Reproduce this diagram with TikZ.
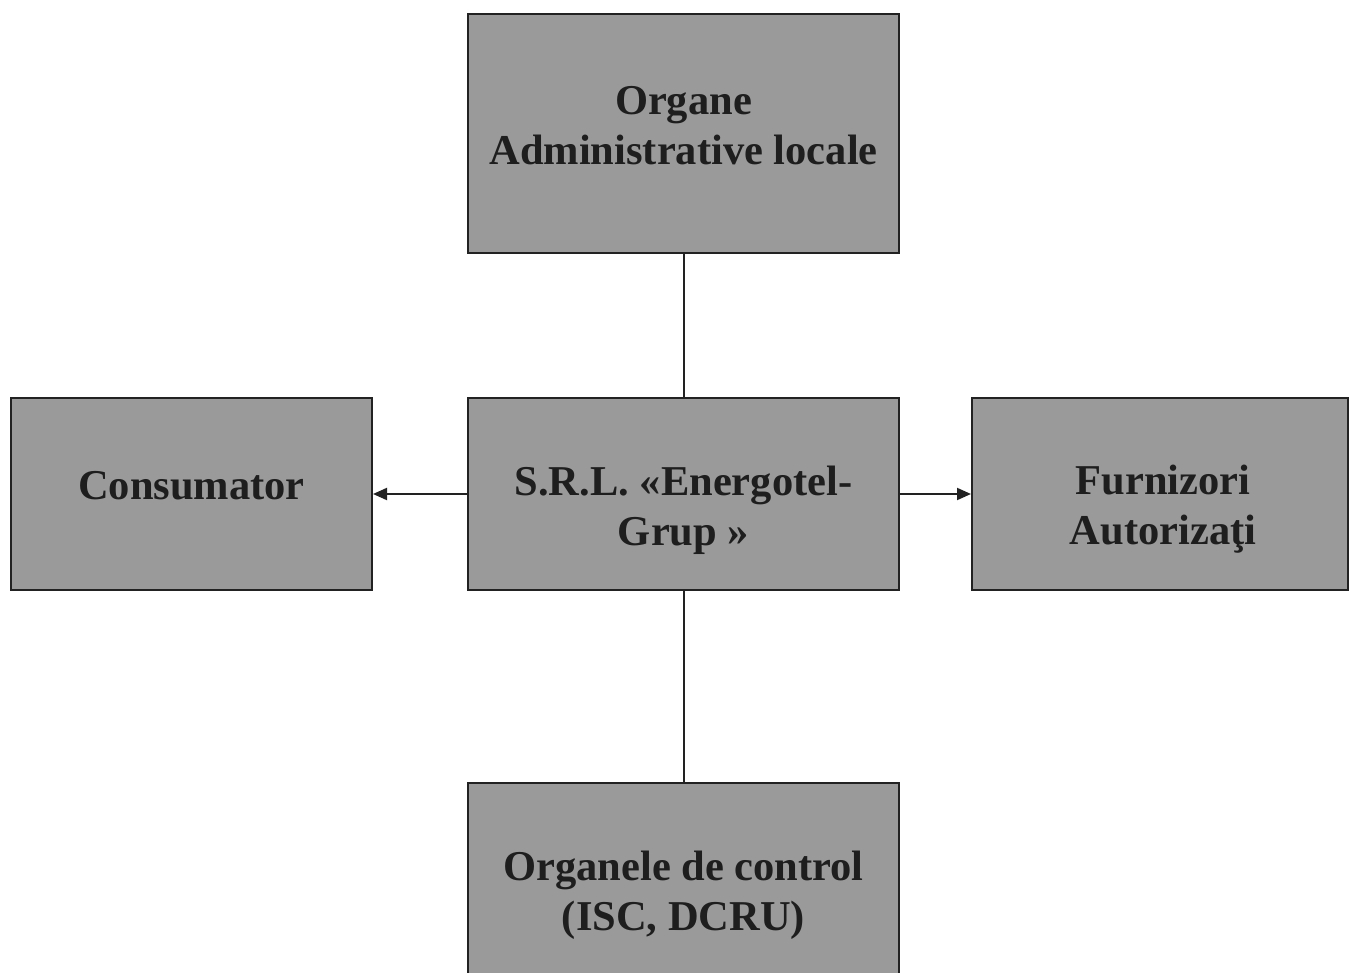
\documentclass[tikz,border=0pt]{standalone}
\usepackage{fontspec}
\setmainfont{Liberation Serif}
\usetikzlibrary{arrows.meta,calc}
\definecolor{boxgray}{HTML}{9A9A9A}
\definecolor{edge}{HTML}{222222}
\definecolor{ink}{HTML}{1E1E1E}
\tikzset{
  box/.style={draw=edge, line width=2pt, fill=boxgray, rectangle, inner sep=0pt},
  lbl/.style={align=center, text=ink, font=\fontsize{42.5}{50}\selectfont\bfseries, inner sep=0pt},
  conn/.style={draw=edge, line width=2pt},
  arr/.style={conn, -{Triangle[length=14pt,width=12pt]}}
}
\begin{document}
\begin{tikzpicture}[x=1pt,y=-1pt]
\useasboundingbox (0,0) rectangle (1349,973);
\begin{scope}
\clip (0,0) rectangle (1349,973);
\node[box, minimum width=431pt, minimum height=239pt] (top) at (683.5,133.5) {};
\node[box, minimum width=431pt, minimum height=192pt] (mid) at (683.5,494) {};
\node[box, minimum width=361pt, minimum height=192pt] (left) at (191.5,494) {};
\node[box, minimum width=376pt, minimum height=192pt] (right) at (1160,494) {};
\node[box, minimum width=431pt, minimum height=240pt] (bot) at (683.5,903) {};
\end{scope}
\node[lbl] (topt) at (683.5,126) {Organe\\Administrative locale};
\node[lbl] (midt) at (683.5,510) {S.R.L. «Energotel-\\Grup »};
\node[lbl] (leftt) at (191.5,486) {Consumator};
\node[lbl] (rightt) at (1163,509) {Furnizori\\Autorizaţi};
\node[lbl] (bott) at (683.5,895) {Organele de control\\(ISC, DCRU)};
\draw[conn] (top.south) -- (mid.north);
\draw[conn] (mid.south) -- (mid.south |- bot.north);
\draw[arr] (mid.west) -- (left.east);
\draw[arr] (mid.east) -- (right.west);
\end{tikzpicture}
\end{document}
